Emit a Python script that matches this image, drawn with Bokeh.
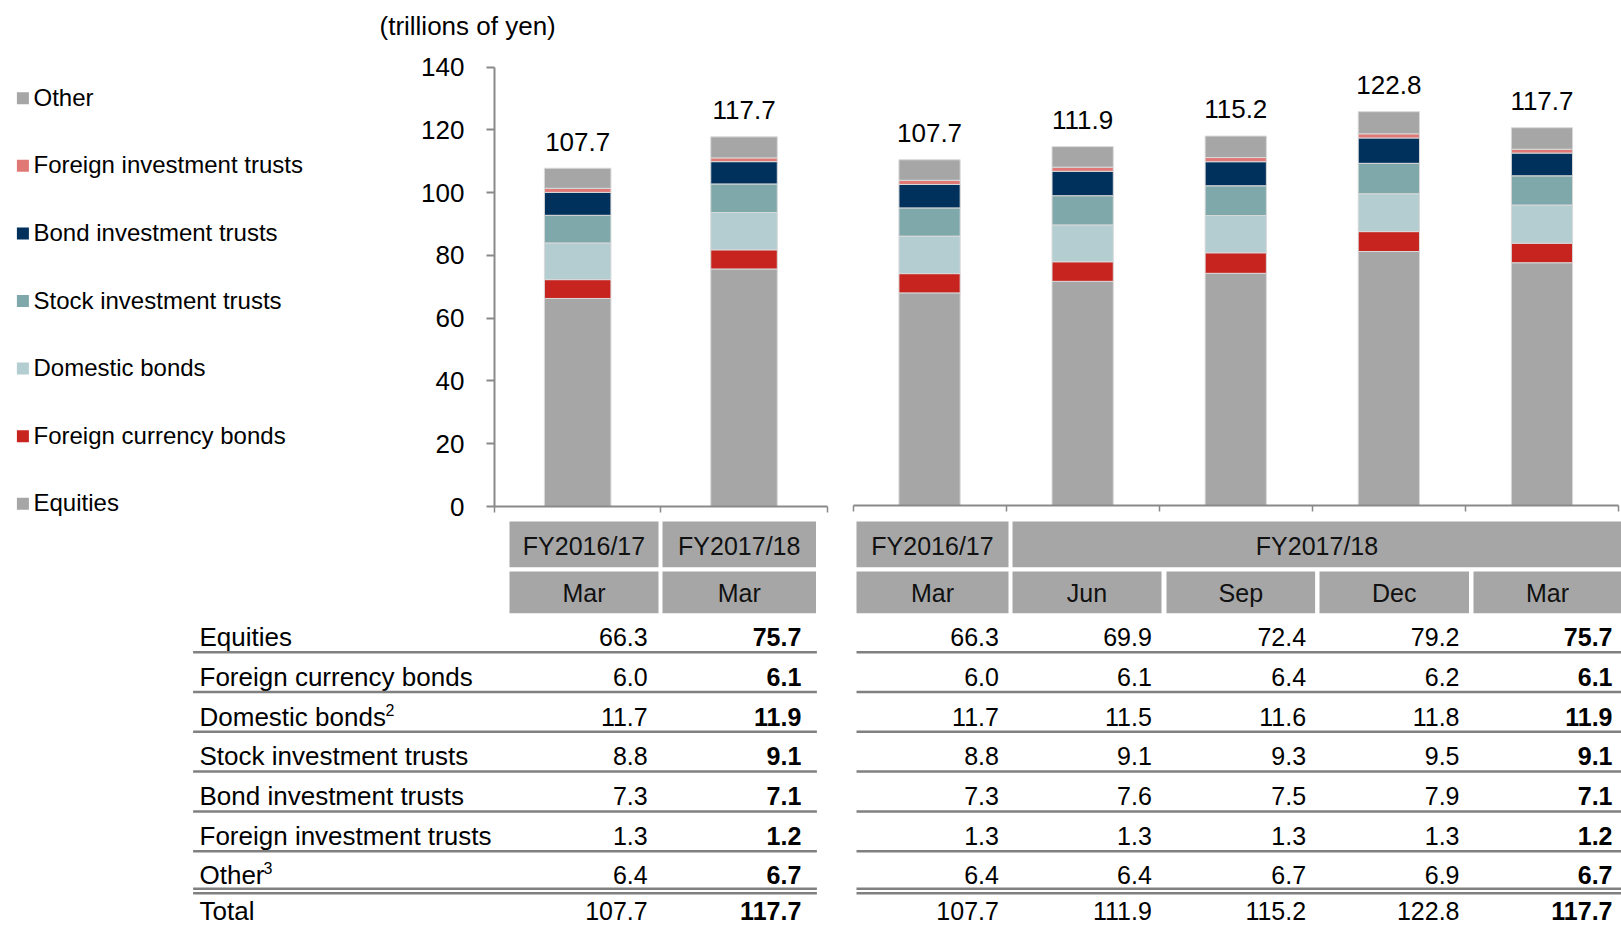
from bokeh.plotting import figure
from bokeh.models import Range1d, LinearAxis, FixedTicker, ColumnDataSource
from bokeh.core.properties import value
from bokeh.embed import file_html
from bokeh.resources import INLINE

# ---------------- data ----------------
series = ["Equities", "Foreign currency bonds", "Domestic bonds",
          "Stock investment trusts", "Bond investment trusts",
          "Foreign investment trusts", "Other"]
colors = ["#A6A6A6", "#C8241F", "#B4CDD1", "#7FA8AB", "#00305C", "#E07875", "#A6A6A6"]

left_years = ["FY2016/17", "FY2017/18"]
left_months = ["Mar", "Mar"]
left_equities = [66.3, 75.7]
left_fx_bonds = [6.0, 6.1]
left_dom_bonds = [11.7, 11.9]
left_stock_it = [8.8, 9.1]
left_bond_it = [7.3, 7.1]
left_foreign_it = [1.3, 1.2]
left_other = [6.4, 6.7]
left_totals = [107.7, 117.7]

right_years = ["FY2016/17", "FY2017/18"]
right_year_spans = [1, 4]
right_months = ["Mar", "Jun", "Sep", "Dec", "Mar"]
right_equities = [66.3, 69.9, 72.4, 79.2, 75.7]
right_fx_bonds = [6.0, 6.1, 6.4, 6.2, 6.1]
right_dom_bonds = [11.7, 11.5, 11.6, 11.8, 11.9]
right_stock_it = [8.8, 9.1, 9.3, 9.5, 9.1]
right_bond_it = [7.3, 7.6, 7.5, 7.9, 7.1]
right_foreign_it = [1.3, 1.3, 1.3, 1.3, 1.2]
right_other = [6.4, 6.4, 6.7, 6.9, 6.7]
right_totals = [107.7, 111.9, 115.2, 122.8, 117.7]

y_ticks = [0, 20, 40, 60, 80, 100, 120, 140]
unit_label = "(trillions of yen)"
row_labels = series + ["Total"]
row_superscripts = {"Domestic bonds": "2", "Other": "3"}

left_series = [left_equities, left_fx_bonds, left_dom_bonds, left_stock_it,
               left_bond_it, left_foreign_it, left_other]
right_series = [right_equities, right_fx_bonds, right_dom_bonds, right_stock_it,
                right_bond_it, right_foreign_it, right_other]

# ---------------- layout ----------------
FONT = "Liberation Sans"
W, H = 1621, 928
PL, PT, PR, PB = 0, 0, 1621, 928
AXC = "#898989"
TXT = "#000000"


def lin(v0, p0, v1, p1, pstart, pend):
    s = (p1 - p0) / (v1 - v0)
    return Range1d(start=v0 + (pstart - p0) / s, end=v0 + (pend - p0) / s)


p = figure(width=W, height=H, x_range=Range1d(PL, PR), y_range=Range1d(PB, PT),
           x_axis_type=None, y_axis_type=None, min_border=0,
           toolbar_location=None, output_backend="svg",
           outline_line_color=None, background_fill_color="white")

nL, nR = len(left_months), len(right_months)
p.extra_x_ranges = {
    "lx": lin(0, 494, nL, 826.7, PL, PR),
    "rx": lin(0, 852.5, nR, 1618, PL, PR),
}
p.extra_y_ranges = {
    "ly": lin(0, 506, 140, 66.7, PB, PT),
    "ry": lin(0, 505, 100, 505 - 320.7, PB, PT),
}

keys = [f"s{i}" for i in range(len(series))]


def draw_group(vals, totals, xr, yr):
    n = len(totals)
    data = {"x": [i + 0.5 for i in range(n)]}
    for k, v in zip(keys, vals):
        data[k] = v
    src = ColumnDataSource(data)
    p.vbar_stack(keys, x="x", width=0.4, color=colors, source=src,
                 line_color="#D9D9D9", line_width=1,
                 x_range_name=xr, y_range_name=yr)
    p.text(x=data["x"], y=totals, text=[f"{t:.1f}" for t in totals],
           x_range_name=xr, y_range_name=yr, text_align="center",
           text_baseline="alphabetic", y_offset=-27,
           text_font=value(FONT), text_font_size="26px", text_color=TXT)


draw_group(left_series, left_totals, "lx", "ly")
draw_group(right_series, right_totals, "rx", "ry")

# y axis (left chart)
yax = LinearAxis(x_range_name="lx", y_range_name="ly", fixed_location=0,
                 bounds=(0, 140), ticker=FixedTicker(ticks=y_ticks, minor_ticks=[]))
yax.axis_line_color = AXC
yax.axis_line_width = 2
yax.major_tick_line_color = AXC
yax.major_tick_line_width = 2
yax.major_tick_out = 8
yax.major_tick_in = 0
yax.minor_tick_out = 0
yax.major_label_standoff = 22
yax.major_label_text_font = FONT
yax.major_label_text_font_size = "26px"
yax.major_label_text_color = TXT
p.add_layout(yax, "left")

# category axes (no labels, boundary ticks)
for xr, yr, n in (("lx", "ly", nL), ("rx", "ry", nR)):
    ax = LinearAxis(x_range_name=xr, y_range_name=yr, fixed_location=0,
                    bounds=(0, n), ticker=FixedTicker(ticks=[], minor_ticks=list(range(n + 1))))
    ax.axis_line_color = AXC
    ax.axis_line_width = 2
    ax.minor_tick_line_color = AXC
    ax.minor_tick_line_width = 1.5
    ax.minor_tick_out = 6
    ax.minor_tick_in = 0
    ax.major_tick_out = 0
    p.add_layout(ax, "below")

# unit label
p.text(x=[379], y=[25], text=[unit_label], text_baseline="middle",
       text_font=value(FONT), text_font_size="26px", text_color=TXT)

# legend (top-to-bottom: reverse stacking order)
leg_names = series[::-1]
leg_colors = colors[::-1]
leg_y = [96.7 + 67.6 * i for i in range(len(leg_names))]
p.scatter(x=[22.4] * len(leg_names), y=[y + 1 for y in leg_y], marker="square",
          size=12, color=leg_colors, line_color=None)
p.text(x=[33] * len(leg_names), y=leg_y, text=leg_names, text_baseline="middle",
       text_font=value(FONT), text_font_size="24px", text_color=TXT)

# ---------------- table ----------------
HDR = "#A6A6A6"
LINE = "#808080"
h1_top, h1_bot = 521, 566.7
h2_top, h2_bot = 571, 612.7

left_cells = [(509, 658), (662, 815.5)]
right_cells = [(856, 1008), (1012, 1161), (1166, 1314.6), (1319, 1468.5), (1473, 1621)]

# header row 1
hx_l, hx_r, hy_t, hy_b, htxt, hcx, hcy = [], [], [], [], [], [], []
for (l, r), yname in zip(left_cells, left_years):
    hx_l.append(l); hx_r.append(r); hy_t.append(h1_top); hy_b.append(h1_bot)
    htxt.append(yname); hcx.append((l + r) / 2); hcy.append(545)
ci = 0
for yname, span in zip(right_years, right_year_spans):
    l = right_cells[ci][0]
    r = right_cells[ci + span - 1][1]
    hx_l.append(l); hx_r.append(r); hy_t.append(h1_top); hy_b.append(h1_bot)
    htxt.append(yname); hcx.append((l + r) / 2); hcy.append(545)
    ci += span
# header row 2
for (l, r), m in zip(left_cells + right_cells, left_months + right_months):
    hx_l.append(l); hx_r.append(r); hy_t.append(h2_top); hy_b.append(h2_bot)
    htxt.append(m); hcx.append((l + r) / 2); hcy.append(592)

p.quad(left=hx_l, right=hx_r, top=hy_t, bottom=hy_b, fill_color=HDR, line_color=None)
p.text(x=hcx, y=hcy, text=htxt, text_align="center", text_baseline="middle",
       text_font=value(FONT), text_font_size="25px", text_color="#111111")

row_y = [636.7 + 39.7 * i for i in range(len(row_labels))]
row_y[-1] -= 4   # keep the total row fully inside the canvas
p.text(x=[199] * len(row_labels), y=row_y, text=row_labels, text_baseline="middle",
       text_font=value(FONT), text_font_size="26px", text_color=TXT)
sup_x = {"Domestic bonds": 385, "Other": 263}
sx, sy, st = [], [], []
for lab, sup in row_superscripts.items():
    i = row_labels.index(lab)
    sx.append(sup_x[lab]); sy.append(row_y[i] - 7); st.append(sup)
p.text(x=sx, y=sy, text=st, text_baseline="middle", text_font=value(FONT),
       text_font_size="16px", text_color=TXT)

left_cols = [list(c) + [t] for c, t in zip(zip(*left_series), left_totals)]
right_cols = [list(c) + [t] for c, t in zip(zip(*right_series), right_totals)]
all_cols = left_cols + right_cols
col_right = [647.2, 800.8, 998.4, 1151.3, 1305.6, 1459, 1612]
bold_cols = {len(left_cols) - 1, len(all_cols) - 1}

for ci, (col, xr) in enumerate(zip(all_cols, col_right)):
    p.text(x=[xr] * len(col), y=row_y, text=[f"{v:.1f}" for v in col],
           text_align="right", text_baseline="middle", text_font=value(FONT),
           text_font_size="25px", text_color=TXT,
           text_font_style="bold" if ci in bold_cols else "normal")

# row separators
line_y = [651.7 + 39.8 * i for i in range(len(series) - 1)]
seg_x0, seg_x1, seg_y = [], [], []
for y in line_y + [888.3, 892.7]:
    for a, b in ((192.6, 816.4), (856, 1621)):
        seg_x0.append(a); seg_x1.append(b); seg_y.append(y)
p.segment(x0=seg_x0, y0=seg_y, x1=seg_x1, y1=seg_y, line_color=LINE, line_width=2.5)

open("out.html", "w").write(file_html(p, INLINE))
